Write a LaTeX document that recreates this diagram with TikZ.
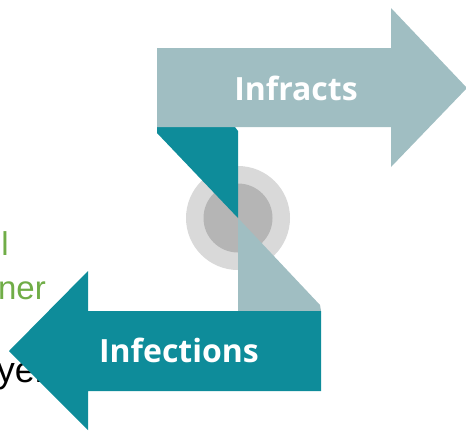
\documentclass[tikz,border=0pt]{standalone}
\usepackage{fontspec}
\setmainfont{Liberation Sans}
\newfontfamily\headfont{Open Sans}
\definecolor{teal1}{HTML}{0E8C9A}
\definecolor{lightteal}{HTML}{A0BEC2}
\definecolor{grn}{HTML}{70AD47}
\definecolor{ringout}{HTML}{D9D9D9}
\definecolor{ringin}{HTML}{B5B5B5}
\tikzset{
  arrowlabel/.style={text=white, font=\headfont\bfseries\fontsize{32}{36}\selectfont, inner sep=0pt},
  sidetext/.style={font=\fontsize{33}{38}\selectfont, inner sep=0pt, anchor=base east},
}
\begin{document}
\begin{tikzpicture}[x=1pt,y={(0,-1pt)}]
\useasboundingbox (0,0) rectangle (466,432);
\clip (0,0) rectangle (466,432);
% partially hidden side texts
\node[sidetext, text=grn] (t1) at (9,255) {l};
\node[sidetext, text=grn] (t2) at (46,299) {ner};
\node[sidetext, text=black, font=\fontsize{36}{40}\selectfont] (t3) at (47,382) {yer};
% rings
\fill[ringout] (238,218) circle[radius=52];
\fill[ringin] (238,218) circle[radius=34.5];
% folds
\fill[teal1] (157,127) -- (235,127) -- (238,131) -- (238,218) -- (157,133) -- cycle;
\fill[lightteal] (238,218) -- (320,305) -- (321,311) -- (238,311) -- cycle;
% top arrow
\fill[lightteal] (157,48) -- (391,48) -- (391,8) -- (467,88) -- (391,167) -- (391,127) -- (157,127) -- cycle;
% bottom arrow
\fill[teal1] (321,311) -- (88,311) -- (88,271) -- (9,351) -- (88,430) -- (88,391) -- (321,391) -- cycle;
\node[arrowlabel] (infr) at (296,88) {Infracts};
\node[arrowlabel] (infe) at (179,350) {Infections};
\end{tikzpicture}
\end{document}
